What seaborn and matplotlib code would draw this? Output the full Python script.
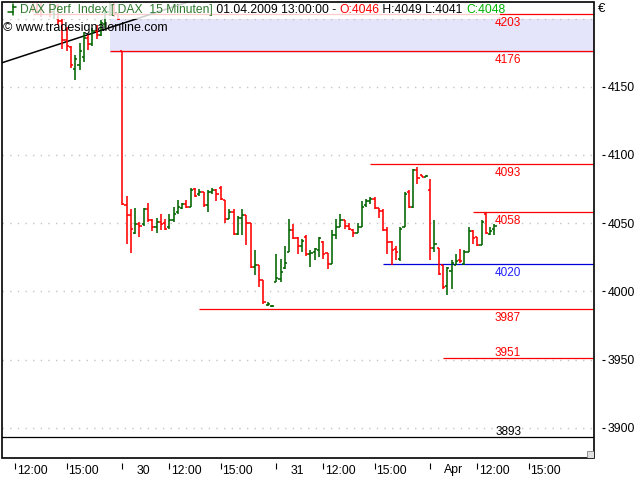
import matplotlib
matplotlib.use('Agg')
import matplotlib.pyplot as plt
import matplotlib.transforms as mtransforms
from matplotlib.patches import Rectangle
import seaborn as sns
import numpy as np

# 15 minute bars, index counted from the first bar of 27.03.2009 (36 bars per day)
bar_start = 9
bar_open = [4222, 4224, 4227, 4225, 4221, 4223, 4229, 4226, 4220, 4218,
            4214, 4205, 4209, 4198, 4184, 4179, 4163, 4166, 4172, 4186,
            4181, 4191, 4188, 4196, 4205, 4210, 4203,
            4176, 4063, 4056, 4043, 4049, 4049, 4060, 4052, 4047, 4051,
            4050, 4047, 4052, 4058, 4061, 4064, 4062, 4075, 4071, 4073,
            4063, 4073, 4074, 4076, 4067, 4053, 4058, 4042, 4054, 4056,
            4050, 4018, 4019, 4008, 3990, 3989,
            4007, 4009, 4017, 4029, 4045, 4039, 4033, 4040, 4027, 4029,
            4030, 4036, 4028, 4020, 4041, 4047, 4052, 4048, 4045, 4043,
            4047, 4063, 4066, 4068, 4061, 4059, 4045, 4036, 4031, 4024,
            4047, 4073, 4062, 4089, 4085, 4084,
            4074, 4032, 4032, 4019, 4004, 4015, 4019, 4023, 4020, 4029,
            4044, 4040, 4034, 4057, 4042, 4046]
bar_high = [4228, 4230, 4233, 4229, 4226, 4231, 4234, 4230, 4225, 4222,
            4218, 4211, 4211, 4200, 4194, 4180, 4173, 4182, 4190, 4188,
            4193, 4195, 4199, 4207, 4214, 4212, 4204,
            4176, 4070, 4060, 4061, 4051, 4061, 4065, 4053, 4054, 4057,
            4053, 4057, 4062, 4067, 4065, 4067, 4076, 4076, 4075, 4073,
            4074, 4076, 4075, 4077, 4067, 4060, 4060, 4055, 4060, 4056,
            4050, 4030, 4019, 4008, 3992, 3990,
            4027, 4024, 4033, 4053, 4049, 4040, 4038, 4041, 4030, 4032,
            4040, 4037, 4028, 4045, 4053, 4057, 4052, 4050, 4046, 4050,
            4066, 4068, 4069, 4069, 4061, 4060, 4047, 4037, 4033, 4047,
            4073, 4074, 4090, 4091, 4085.5, 4085,
            4082, 4052, 4032, 4019, 4018, 4023, 4027, 4031, 4030, 4047,
            4045, 4040, 4052, 4058, 4047, 4049]
bar_low = [4218, 4220, 4223, 4219, 4216, 4221, 4205, 4203, 4201, 4213,
           4201, 4200, 4195, 4178, 4176, 4164, 4155, 4162, 4168, 4177,
           4180, 4185, 4187, 4193, 4202, 4201, 4199,
           4063, 4035, 4028, 4042, 4040, 4048, 4051, 4044, 4043, 4045,
           4045, 4046, 4051, 4057, 4060, 4061, 4062, 4069, 4070, 4062,
           4058, 4071, 4066, 4067, 4050, 4053, 4041, 4041, 4041, 4034,
           4017, 4012, 4003, 3991, 3989, 3988.5,
           4007, 4007, 4016, 4029, 4038, 4027, 4029, 4026, 4018, 4023,
           4025, 4024, 4016, 4020, 4038, 4047, 4046, 4045, 4040, 4043,
           4047, 4062, 4064, 4060, 4054, 4044, 4027, 4019, 4023, 4022,
           4047, 4061, 4061, 4079, 4083.5, 4083.5,
           4023, 4029, 4012, 4002, 3997, 4002, 4019, 4021, 4019, 4029,
           4035, 4033, 4034, 4042, 4041, 4041]
bar_close = [4224, 4227, 4225, 4221, 4223, 4229, 4226, 4220, 4218, 4215,
             4205, 4209, 4198, 4184, 4180, 4166, 4170, 4176, 4186, 4181,
             4191, 4188, 4197, 4205, 4210, 4203, 4200,
             4064, 4056, 4046, 4049, 4048, 4060, 4052, 4047, 4051, 4049,
             4046, 4052, 4057, 4062, 4064, 4062, 4074, 4070, 4073, 4063,
             4073, 4074, 4071, 4068, 4053, 4058, 4042, 4054, 4056, 4050,
             4018, 4019, 4008, 3992, 3991, 3989.5,
             4010, 4014, 4021, 4045, 4039, 4033, 4037, 4027, 4028, 4031,
             4039, 4027, 4020, 4041, 4047, 4052, 4048, 4046, 4043, 4047,
             4062, 4066, 4068, 4061, 4059, 4045, 4036, 4030, 4029, 4046,
             4071, 4062, 4089, 4083, 4084, 4084.5,
             4032, 4035, 4013, 4003, 4017, 4021, 4022, 4022, 4029, 4044,
             4039, 4034, 4051, 4043, 4044, 4048]

# drawn support / resistance levels
level_values = [4203, 4176, 4093, 4058, 4020, 3987, 3951, 3893]
level_start = [15, 33, 94, 118, 97, 54, 111, 7]
level_colors = ['red', 'red', 'red', 'red', '#0000dd', 'red', 'red', 'black']
label_colors = ['red', 'red', 'red', 'red', '#2020ff', 'red', 'red', 'black']
label_above = [False, False, False, False, False, False, True, True]
band_low, band_high, band_start = 4175, 4200, 33

trend_x = [7.9, 51.4]
trend_y = [4167.6, 4212.1]

# x axis: day starts and tick labels
bars_per_day = 36
day_labels = ['27', '30', '31', 'Apr']
hour_offsets = [11, 23]
hour_labels = ['12:00', '15:00']

y_ticks = [3900, 3950, 4000, 4050, 4100, 4150]
grid_levels = [3900, 3950, 4000, 4050, 4100, 4150, 4200]

UP = '#006400'
DOWN = '#ff0000'


def draw_bars(ax):
    idx = np.arange(bar_start, bar_start + len(bar_open))
    o = np.array(bar_open)
    c = np.array(bar_close)
    colors = [UP if cc >= oo else DOWN for oo, cc in zip(o, c)]
    ax.vlines(idx, bar_low, bar_high, colors=colors, lw=1.15, zorder=3)
    ax.hlines(o, idx - 0.5, idx, colors=colors, lw=1.15, zorder=3)
    ax.hlines(c, idx, idx + 0.5, colors=colors, lw=1.15, zorder=3)


def draw_levels(ax, xmax):
    ax.fill_between([band_start, xmax], band_low, band_high, color='#e4e4fa', lw=0, zorder=0.5)
    for val, x0, col, lcol, above in zip(level_values, level_start, level_colors,
                                         label_colors, label_above):
        ax.hlines(val, x0, xmax, colors=col, lw=0.9, zorder=1)
        ax.annotate(str(val), xy=(126.2, val), xytext=(0, 4 if above else -6.3),
                    textcoords='offset points', ha='center', va='center',
                    color=lcol, fontsize=8.5, zorder=4)


def header(fig, ax):
    ax.add_patch(Rectangle((0, 0.9627), 0.841, 0.05, transform=ax.transAxes,
                           color='white', alpha=0.8, lw=0, zorder=5))
    # small bar symbol
    fig.add_artist(plt.Line2D([12.5 / 640] * 2, [1 - 4 / 480, 1 - 15 / 480], color=UP, lw=1.1))
    fig.add_artist(plt.Line2D([8 / 640, 12.5 / 640], [1 - 12 / 480] * 2, color=UP, lw=1.1))
    fig.add_artist(plt.Line2D([12.5 / 640, 16 / 640], [1 - 7 / 480] * 2, color=UP, lw=1.1))

    renderer = fig.canvas.get_renderer()
    parts = [('DAX Perf. Index [.DAX  15 Minuten]', '#2f7a2f'),
             (' 01.04.2009 13:00:00 - ', 'black'),
             ('O:4046', 'red'),
             (' H:4049 L:4041 ', 'black'),
             ('C:4048', '#00b400')]
    x = 20
    for txt, col in parts:
        t = fig.text(x / 640, 1 - 10 / 480, txt, color=col, fontsize=8.7,
                     ha='left', va='center')
        x += t.get_window_extent(renderer).width
    fig.text(3 / 640, 1 - 28 / 480, '\u00a9 www.tradesignalonline.com', color='black',
             fontsize=9.0, ha='left', va='center')
    fig.text(598 / 640, 1 - 9.5 / 480, '\u20ac', color='black', fontsize=9.5,
             ha='left', va='center')


def x_axis(fig, ax, xmin, xmax):
    pos, labels, is_day = [], [], []
    for d, name in enumerate(day_labels):
        start = d * bars_per_day
        pos.append(start)
        labels.append(name)
        is_day.append(True)
        for off, lab in zip(hour_offsets, hour_labels):
            pos.append(start + off)
            labels.append(lab)
            is_day.append(False)
    keep = [(p, l, dflag) for p, l, dflag in zip(pos, labels, is_day) if xmin < p < xmax]
    ax.set_xticks([k[0] for k in keep])
    ax.set_xticklabels([])
    trans = mtransforms.blended_transform_factory(ax.transData, ax.transAxes)
    for p, lab, dflag in keep:
        shift = mtransforms.ScaledTranslation((14 if dflag else 1.5) / 100, -12.5 / 100,
                                              fig.dpi_scale_trans)
        ax.text(p, 0, lab, transform=trans + shift, ha='left', va='center',
                fontsize=8.8, color='black', clip_on=False)


def plot_chart():
    sns.set_theme(style='white')
    plt.rcParams['font.family'] = ['Liberation Sans', 'DejaVu Sans']

    fig = plt.figure(figsize=(6.4, 4.8), dpi=100)
    ax = fig.add_axes([2 / 640, 22 / 480, 592 / 640, 456 / 480])
    xmin, xmax = 7.86, 146.3
    ax.set_xlim(xmin, xmax)
    ax.set_ylim(3877.8, 4212.1)

    for g in grid_levels:
        ax.axhline(g, color='#c4c4c4', lw=1, ls=(0, (1, 4.5)), zorder=0.6)

    draw_levels(ax, xmax)
    draw_bars(ax)
    sns.lineplot(x=trend_x, y=trend_y, ax=ax, color='black', lw=1.1, zorder=2)

    # frame and axes
    for side in ['top', 'left', 'right', 'bottom']:
        ax.spines[side].set_visible(False)
    ax.spines['right'].set_position(('outward', 6))
    ax.spines['bottom'].set_position(('outward', 3.5))
    ax.add_patch(Rectangle((0, 0), 1, 1, transform=ax.transAxes, fill=False,
                           ec='black', lw=1.2, zorder=6, clip_on=False))
    # resize grip
    ax.add_patch(Rectangle((1 - 7 / 592, 0), 7 / 592, 7 / 456, transform=ax.transAxes,
                           fc='#e0e0e0', ec='#808080', lw=0.6, zorder=6))

    ax.yaxis.tick_right()
    ax.set_yticks(y_ticks)
    ax.set_yticklabels([str(v) for v in y_ticks])
    ax.tick_params(axis='y', direction='out', length=2.5, width=0.8, pad=1.5,
                   labelsize=8.8, colors='black', right=True, left=False)
    ax.tick_params(axis='x', direction='out', length=4, width=0.8, bottom=True,
                   colors='black')

    x_axis(fig, ax, xmin, xmax)
    header(fig, ax)

    fig.savefig('out.png', dpi=100, facecolor='white')


plot_chart()
